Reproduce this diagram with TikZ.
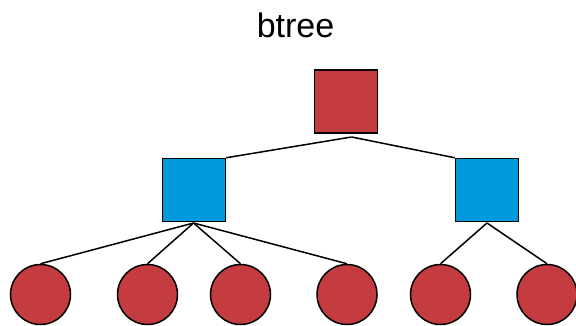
\documentclass[tikz,border=0pt]{standalone}
\usepackage{fontspec}
\setmainfont{Liberation Sans}
\definecolor{nodered}{RGB}{196,60,64}
\definecolor{nodeblue}{RGB}{0,153,219}
\begin{document}
\begin{tikzpicture}[x=1pt,y=-1pt,
  rootbox/.style={draw=black,line width=1.5pt,fill=nodered,minimum size=63pt,inner sep=0pt},
  innerbox/.style={draw=black,line width=1.5pt,fill=nodeblue,minimum size=63pt,inner sep=0pt},
  leaf/.style={circle,draw=black,line width=1.5pt,fill=nodered,minimum size=60pt,inner sep=0pt},
  edge/.style={draw=black,line width=1.5pt}]
\useasboundingbox (0,0) rectangle (576,326);
% title
\node[anchor=base,font=\fontsize{34}{38}\selectfont] (title) at (295.5,37.5) {btree};
% tree nodes
\node[rootbox] (root) at (346,101.5) {};
\node[innerbox] (left) at (194,190) {};
\node[innerbox] (right) at (487,190) {};
\foreach \n/\x in {1/40.5,2/147.5,3/240.5,4/347,5/440.5,6/547}
  \node[leaf] (c\n) at (\x,294.5) {};
% branch points
\coordinate (rootout) at (351.5,137);
\coordinate (leftout) at (193.5,223);
\coordinate (rightout) at (487,223);
% connectors
\draw[edge] (rootout) -- (left.north east);
\draw[edge] (rootout) -- (right.north west);
\foreach \n in {1,2,3,4}
  \draw[edge] (leftout) -- (c\n.north);
\foreach \n in {5,6}
  \draw[edge] (rightout) -- (c\n.north);
\end{tikzpicture}
\end{document}
